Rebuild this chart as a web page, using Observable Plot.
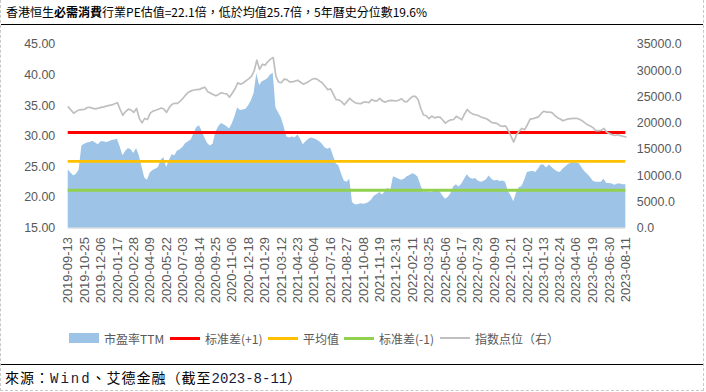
<!DOCTYPE html>
<html>
<head>
<meta charset="utf-8">
<script src="https://cdn.jsdelivr.net/npm/d3@7"></script>
<script src="https://cdn.jsdelivr.net/npm/@observablehq/plot@0.6"></script>
<style>
  html, body { margin: 0; padding: 0; background: #fff; }
  #wrap { position: relative; width: 704px; height: 391px; border-left: 1px dashed #c8c8c8; border-right: 1px dashed #c8c8c8; border-bottom: 1px dashed #c8c8c8; box-sizing: border-box; overflow: hidden; }
  #title { position: absolute; left: 5px; top: 3px; font-family: "Noto Sans CJK TC", "Noto Sans CJK SC", sans-serif; font-size: 12px; color: #000; white-space: nowrap; line-height: 18px; }
  #title b { font-weight: 700; }
  .hline { position: absolute; left: 0; width: 704px; height: 1px; background: #000; }
  #chart { position: absolute; left: -1px; top: 25px; }
  #legend { position: absolute; top: 328px; left: 0; width: 704px; height: 20px; font-family: "Noto Sans CJK SC", sans-serif; font-size: 12px; color: #595959; }
  .item { position: absolute; top: 0; height: 20px; display: flex; align-items: center; white-space: nowrap; }
  .sw { display: inline-block; width: 30px; margin-right: 5px; }
  #caption { position: absolute; left: 4px; top: 367px; font-family: "Noto Sans CJK TC", sans-serif; font-size: 14px; letter-spacing: 1px; color: #000; white-space: nowrap; line-height: 20px; }
  #caption .w { font-family: "Liberation Mono", monospace; letter-spacing: 2px; color: #1a1a3a; }
  #caption .d { font-family: "Liberation Mono", monospace; letter-spacing: 0px; color: #1a1a3a; }
</style>
</head>
<body>
<div id="wrap">
  <div id="title">香港恒生<b>必需消費</b>行業PE估值=22.1倍，低於均值25.7倍，5年曆史分位數19.6%</div>
  <div class="hline" style="top:24px"></div>
  <div id="chart"></div>
  <div id="legend"></div>
  <div class="hline" style="top:364px"></div>
  <div id="caption">來源：<span class="w">Wind</span>、艾德金融（截至<span class="d">2023-8-11</span>）</div>
</div>
<script>
// ---- data ----
const startDate = "2019-09-13";   // weekly series (Fridays)
const tickLabels = ["2019-09-13","2019-10-25","2019-12-06","2020-01-17","2020-02-28","2020-04-09","2020-05-22","2020-07-03","2020-08-14","2020-09-25","2020-11-06","2020-12-18","2021-01-29","2021-03-12","2021-04-23","2021-06-04","2021-07-16","2021-08-27","2021-10-08","2021-11-19","2021-12-31","2022-02-11","2022-03-25","2022-05-06","2022-06-17","2022-07-29","2022-09-09","2022-10-21","2022-12-02","2023-01-13","2023-02-24","2023-04-06","2023-05-19","2023-06-30","2023-08-11"];

const peTTM = [24.5,24.0,23.5,23.8,24.5,28.4,28.7,28.9,29.0,29.2,
28.9,28.6,29.1,29.1,29.0,29.1,29.3,29.4,29.5,28.3,
26.8,27.5,28.0,27.8,27.2,28.0,26.8,25.0,23.2,22.8,
24.0,24.4,24.6,24.9,26.1,26.5,24.9,26.0,27.0,26.8,
27.6,27.8,28.2,28.8,29.1,29.4,30.4,31.4,31.7,30.8,
29.7,28.8,28.4,28.7,30.6,31.5,32.1,31.9,31.6,31.2,
32.0,33.2,34.6,34.2,34.3,34.4,35.0,35.8,37.0,40.2,
38.3,38.9,39.1,39.4,40.0,40.3,34.6,33.8,33.0,31.5,
29.9,29.7,29.9,29.7,30.2,29.5,28.6,29.1,29.5,29.7,
29.6,29.4,29.1,28.7,28.1,27.9,28.1,26.8,25.5,25.2,
23.8,22.7,22.5,23.0,19.2,18.8,18.8,19.0,18.9,19.0,
19.2,19.6,20.2,20.5,20.8,20.4,21.0,21.5,21.2,23.4,
23.2,23.0,22.8,23.0,23.4,23.6,23.9,23.7,23.3,22.0,
20.8,21.0,20.8,20.8,21.0,21.2,21.0,20.3,19.7,20.0,
20.6,21.7,22.1,21.7,22.2,23.0,23.7,23.2,23.0,23.1,
22.7,22.5,22.6,22.9,23.5,23.0,22.7,22.8,22.6,22.7,
22.5,21.0,20.3,19.3,20.7,21.6,21.8,22.8,24.1,24.2,
24.3,24.1,24.6,25.3,25.3,24.8,25.3,24.9,24.5,24.2,
24.1,24.6,25.0,25.4,25.6,25.7,25.6,25.5,24.8,24.2,
23.8,23.3,22.7,22.5,22.5,22.5,23.0,22.3,22.3,22.2,
22.0,22.2,22.2,22.1,22.1];

const indexLevel = [23100,22500,21900,22250,22530,22580,22640,22980,23000,22800,
22720,22850,23000,23100,23250,23380,23470,23700,23900,22600,
21500,22200,22680,22500,22050,22800,20900,20050,20900,20700,
21900,22300,22450,22650,22900,22700,22050,23000,23600,23780,
23780,24200,24750,25400,25900,26150,26320,26370,26430,26670,
26850,26000,25750,25450,25200,25480,25790,25650,25550,24950,
25700,26500,27680,27400,27650,28050,28450,28900,29900,32000,
30250,31200,31050,31700,32200,32500,28900,27800,27700,28400,
28300,27870,27870,28000,28180,27800,27430,27650,27950,28300,
28500,28380,28000,27650,27000,26350,26550,25500,24500,24400,
24100,23500,24100,24730,24250,23880,23750,23700,24000,24030,
23920,24500,24250,24250,24700,24200,24000,24250,24350,24300,
24220,24400,24650,24100,24100,24650,25100,25100,24500,22800,
21550,21420,20850,21350,21000,21150,21150,20600,20000,20400,
20640,20700,21300,21000,20650,21750,22600,22050,21720,21600,
21450,21170,21000,20850,20500,20110,20050,19900,19500,19380,
19470,18600,17500,16400,17800,18500,19000,18750,19700,20770,
20870,21000,21200,21800,22270,22100,22100,22000,21450,21050,
20800,20450,20650,20820,20870,20900,20930,20730,20470,20050,
19680,19450,19150,18560,18560,18650,19000,18300,18000,17800,
17650,17780,17620,17500,17350];

const stdPlus1 = 30.6;
const meanPE = 25.9;
const stdMinus1 = 21.2;

const leftTicks = [15, 20, 25, 30, 35, 40, 45];
const rightTicks = [0, 5000, 10000, 15000, 20000, 25000, 30000, 35000];

const legendItems = [
  {label: "市盈率TTM", type: "area", color: "#9dc3e6", left: 68},
  {label: "标准差(+1)", type: "line", color: "#ff0000", left: 169},
  {label: "平均值", type: "line", color: "#ffc000", left: 267},
  {label: "标准差(-1)", type: "line", color: "#92d050", left: 343},
  {label: "指数点位（右）", type: "line", color: "#c0c0c0", left: 439}
];

// ---- build ----
const parse = d3.utcParse("%Y-%m-%d");
const t0 = parse(startDate);
const data = peTTM.map((pe, i) => ({date: d3.utcDay.offset(t0, 7 * i), pe, idx: indexLevel[i]}));
const tickDates = tickLabels.map(parse);

// right axis (index) mapped onto the left scale
const yMin = 15, yMax = 45, rMax = 35000;
const toLeft = v => yMin + v * (yMax - yMin) / rMax;
const fromLeft = y => Math.round((y - yMin) * rMax / (yMax - yMin));

const chart = Plot.plot({
  width: 706,
  height: 300,
  marginLeft: 68,
  marginRight: 78,
  marginTop: 19,
  marginBottom: 96.5,
  style: {fontFamily: "Liberation Sans, Arial, sans-serif", fontSize: "12px", color: "#595959", background: "transparent"},
  x: {type: "utc", domain: [data[0].date, data[data.length - 1].date]},
  y: {domain: [yMin, yMax]},
  marks: [
    Plot.areaY(data, {x: "date", y1: yMin, y2: "pe", fill: "#9dc3e6"}),
    Plot.ruleY([yMin], {stroke: "#d9d9d9", strokeWidth: 1}),
    Plot.ruleY([stdPlus1], {stroke: "#ff0000", strokeWidth: 3}),
    Plot.ruleY([meanPE], {stroke: "#ffc000", strokeWidth: 3}),
    Plot.ruleY([stdMinus1], {stroke: "#92d050", strokeWidth: 3}),
    Plot.lineY(data, {x: "date", y: d => toLeft(d.idx), stroke: "#bfbfbf", strokeWidth: 1.7}),
    Plot.axisY({anchor: "left", ticks: leftTicks, tickFormat: d3.format(".2f"), tickSize: 0, tickPadding: 13, label: null, fontSize: 12.5}),
    Plot.axisY({anchor: "right", ticks: rightTicks.map(toLeft), tickFormat: y => d3.format(".1f")(fromLeft(y)), tickSize: 0, tickPadding: 11, label: null, fontSize: 12.5}),
    Plot.axisX({ticks: tickDates, tickFormat: d3.utcFormat("%Y-%m-%d"), tickRotate: -90, tickSize: 0, tickPadding: 9, label: null, fontSize: 13})
  ]
});
document.getElementById("chart").appendChild(chart);

// legend
const legend = document.getElementById("legend");
for (const it of legendItems) {
  const div = document.createElement("div");
  div.className = "item";
  div.style.left = it.left + "px";
  const sw = document.createElement("span");
  sw.className = "sw";
  sw.style.background = it.color;
  sw.style.height = it.type === "area" ? "10px" : (it.color === "#c0c0c0" ? "2px" : "3px");
  div.appendChild(sw);
  const tx = document.createElement("span");
  tx.textContent = it.label;
  div.appendChild(tx);
  legend.appendChild(div);
}
</script>
</body>
</html>
